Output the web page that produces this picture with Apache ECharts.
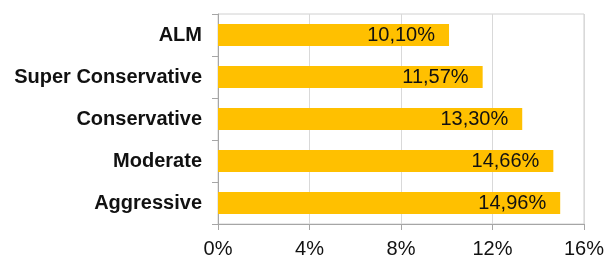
<!DOCTYPE html>
<html>
<head>
<meta charset="utf-8">
<script src="https://cdn.jsdelivr.net/npm/echarts@6/dist/echarts.min.js"></script>
<style>
  html, body { margin: 0; padding: 0; background: #fff; }
  #main { width: 607px; height: 259px; }
</style>
</head>
<body>
<div id="main"></div>
<script>
// portfolios, top to bottom
var categories = ['ALM', 'Super Conservative', 'Conservative', 'Moderate', 'Aggressive'];
var values = [10.10, 11.57, 13.30, 14.66, 14.96];
var xTicks = [0, 4, 8, 12, 16];

var myChart = echarts.init(document.getElementById('main'));
myChart.setOption({
    animation: false,
    textStyle: { fontFamily: 'Liberation Sans, Arial, sans-serif' },
    grid: {
        left: 218,
        right: 21,
        top: 14,
        bottom: 34,
        show: true,
        borderColor: '#d0d0d0',
        borderWidth: 1
    },
    xAxis: {
        type: 'value',
        min: xTicks[0],
        max: xTicks[xTicks.length - 1],
        interval: 4,
        axisLine: { show: true, lineStyle: { color: '#a6a6a6' } },
        axisTick: { show: true, length: 6, lineStyle: { color: '#a6a6a6' } },
        splitLine: { show: true, lineStyle: { color: '#d9d9d9' } },
        axisLabel: {
            color: '#111',
            fontSize: 20,
            margin: 15,
            formatter: function (v) { return v + '%'; }
        }
    },
    yAxis: {
        type: 'category',
        inverse: true,
        data: categories,
        axisLine: { show: true, lineStyle: { color: '#a6a6a6' } },
        axisTick: { show: true, length: 6, lineStyle: { color: '#a6a6a6' } },
        axisLabel: {
            color: '#111',
            fontSize: 20,
            fontWeight: 'bold',
            margin: 16
        }
    },
    series: [{
        type: 'bar',
        data: values,
        barWidth: 22,
        itemStyle: { color: '#ffc000' },
        label: {
            show: true,
            position: 'insideRight',
            distance: 14,
            color: '#111',
            fontSize: 20,
            formatter: function (p) { return p.value.toFixed(2).replace('.', ',') + '%'; }
        }
    }]
});
</script>
</body>
</html>
